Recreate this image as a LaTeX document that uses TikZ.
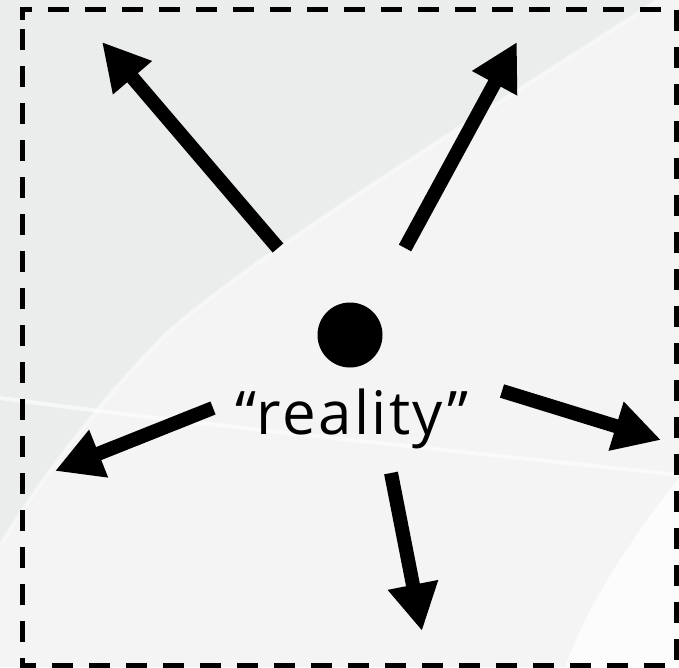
\documentclass[tikz,border=0pt]{standalone}
\usepackage{fontspec}
\setmainfont{Open Sans}[LetterSpace=4]
\usetikzlibrary{arrows.meta}
\definecolor{bgA}{HTML}{F4F4F4}
\definecolor{bgB}{HTML}{EAEDEC}
\tikzset{
  arr/.style={line width=14pt, -{Triangle[length=47pt,width=48pt]}},
  frame/.style={line width=5pt, dash pattern=on 21pt off 16pt},
  streak/.style={white, line width=4pt, opacity=0.45},
}
\begin{document}
\begin{tikzpicture}[x=1pt,y=-1pt]
\useasboundingbox (0,0) rectangle (679,667);
% background
\fill[bgA] (0,0) rectangle (679,667);
\fill[bgB] (0,0) -- (658,0) .. controls (520,90) and (260,250) .. (167,333) .. controls (100,400) and (40,480) .. (0,545) -- cycle;
\draw[streak] (658,0) .. controls (520,90) and (260,250) .. (167,333) .. controls (100,400) and (40,480) .. (0,545);
\draw[streak, opacity=0.6] (0,398) .. controls (200,425) and (400,445) .. (679,475);
\fill[white, opacity=0.8] (679,478) .. controls (630,540) and (590,600) .. (565,667) -- (679,667) -- cycle;
% frame
\draw[frame] (22,20) -- (22,9) -- (676,9) -- (676,665) -- (22,665) -- cycle;
% content
\node[circle, fill=black, minimum size=65pt, inner sep=0pt] (dot) at (350,335) {};
\node[font=\fontsize{60}{60}\selectfont, anchor=base, inner sep=0pt] (lbl) at (352,434) {“reality”};
\coordinate (t1) at (278,248); \coordinate (h1) at (102,42);
\coordinate (t2) at (405,248); \coordinate (h2) at (517,42);
\coordinate (t3) at (213,408); \coordinate (h3) at (55,471);
\coordinate (t4) at (502,391); \coordinate (h4) at (661,440);
\coordinate (t5) at (391,473); \coordinate (h5) at (422,631);
\draw[arr] (t1) -- (h1);
\draw[arr] (t2) -- (h2);
\draw[arr] (t3) -- (h3);
\draw[arr] (t4) -- (h4);
\draw[arr] (t5) -- (h5);
\end{tikzpicture}
\end{document}
